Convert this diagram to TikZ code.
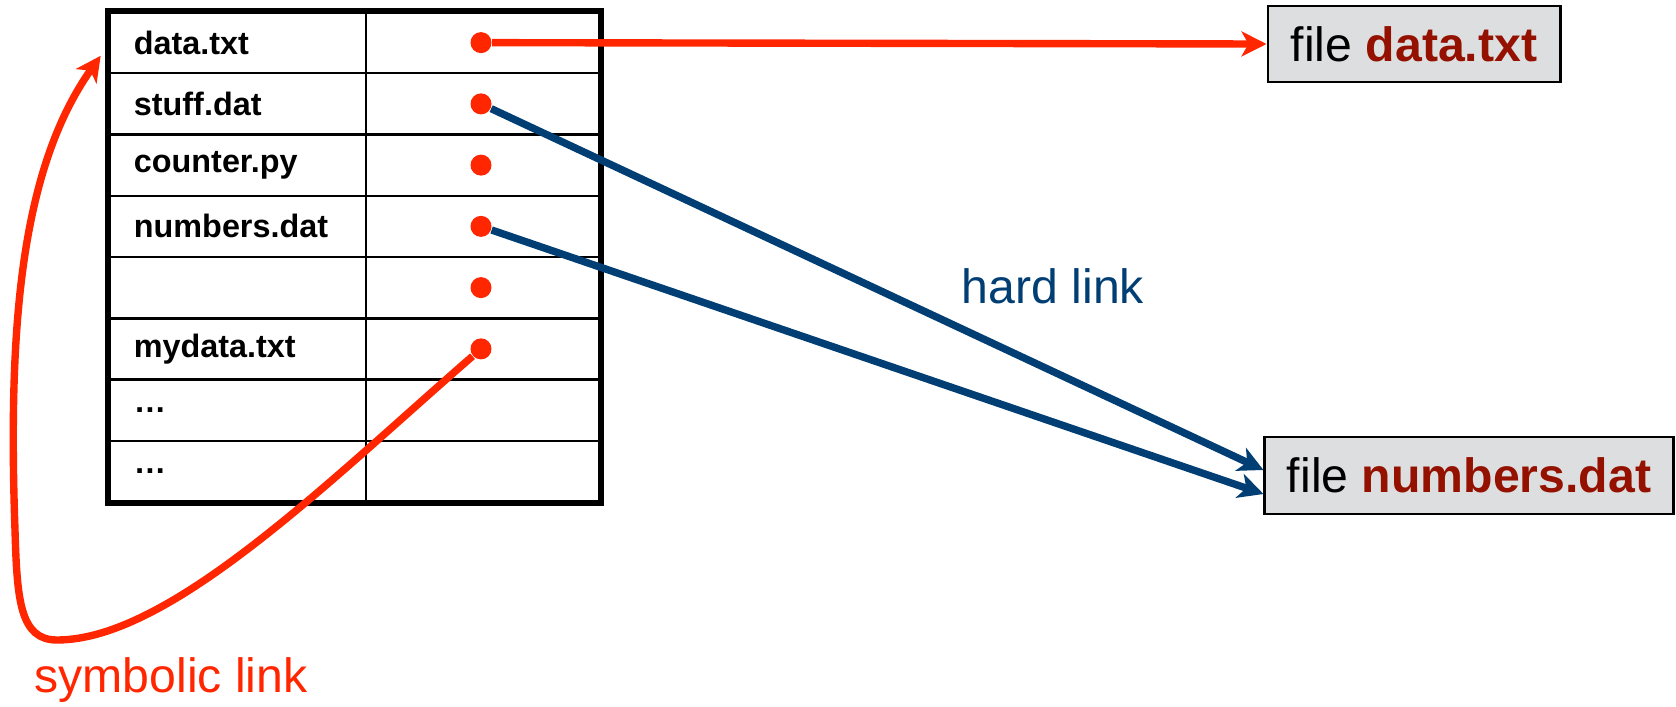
\documentclass[tikz,border=0pt]{standalone}
\usepackage{fontspec}
\setmainfont{Liberation Sans}
\usetikzlibrary{arrows.meta}

\definecolor{linkred}{RGB}{255,38,0}
\definecolor{namered}{RGB}{148,17,0}
\definecolor{linkblue}{RGB}{0,62,116}
\definecolor{boxgray}{RGB}{221,222,224}

\tikzset{
	namecell/.style={draw, line width=0.7pt, minimum width=2.57cm,
		minimum height=0.6125cm, text width=2.07cm, inner xsep=0.25cm,
		align=left, font=\fontsize{9.2}{11}\selectfont\bfseries},
	ptrcell/.style={draw, line width=0.7pt, minimum width=2.34cm,
		minimum height=0.6125cm},
	ptrdot/.style={circle, fill=linkred, inner sep=0pt, minimum size=0.21cm},
	filebox/.style={draw, line width=0.8pt, fill=boxgray, inner sep=0pt,
		font=\fontsize{13.7}{16}\selectfont},
	symlink/.style={draw=linkred, line width=2.1pt,
		-{Stealth[length=0.25cm, width=0.25cm, inset=0.07cm]}},
	hardlink/.style={draw=linkblue, line width=2.1pt,
		-{Stealth[length=0.25cm, width=0.25cm, inset=0.07cm]}},
	linklabel/.style={font=\fontsize{13.7}{16}\selectfont}
}

\begin{document}
\begin{tikzpicture}[x=0.01cm, y=-0.01cm]
	\useasboundingbox[fill=white] (0,0) rectangle (1676,706);
	% Verzeichnistabelle
	\foreach \name [count=\i] in {data.txt,stuff.dat,counter.py,numbers.dat,{},mydata.txt,…,…}
	{
		\node[namecell] (n\i) at (237.5, {12+61.25*(\i-0.5)}) {\name};
		\node[ptrcell] (c\i) at (483, {12+61.25*(\i-0.5)}) {};
	}
	\draw[line width=1.7pt] (n1.north west) rectangle (c8.south east);
	% Zeiger
	\foreach \i in {1,...,6}
		\node[ptrdot] (p\i) at (481, {12+61.25*(\i-0.5)}) {};

	% Dateien
	\node[filebox, minimum width=2.92cm, minimum height=0.76cm] (fdata)
		at (1414,44) {file \textbf{\color{namered}data.txt}};
	\node[filebox, minimum width=4.08cm, minimum height=0.77cm] (fnum)
		at (1469,475.5) {file \textbf{\color{namered}numbers.dat}};

	% Links
	\draw[symlink] (p1) -- (fdata.west);
	\draw[hardlink] (p2) -- ([yshift=0.055cm]fnum.west);
	\draw[hardlink] (p4) -- ([yshift=-0.185cm]fnum.west);
	\coordinate (corner) at (57,640);
	\draw[symlink] (p6) .. controls (330,480) and (170,640) .. (corner)
		.. controls (20,640) and (17,600) .. (15,530)
		.. controls (8,330) and (20,170) .. ([xshift=-0.07cm, yshift=-0.45cm]n1.north west);

	% Beschriftungen
	\node[linklabel, text=linkblue] (hard) at (1053,286) {hard link};
	\node[linklabel, text=linkred] (sym) at (171,680) {symbolic link};
\end{tikzpicture}
\end{document}
